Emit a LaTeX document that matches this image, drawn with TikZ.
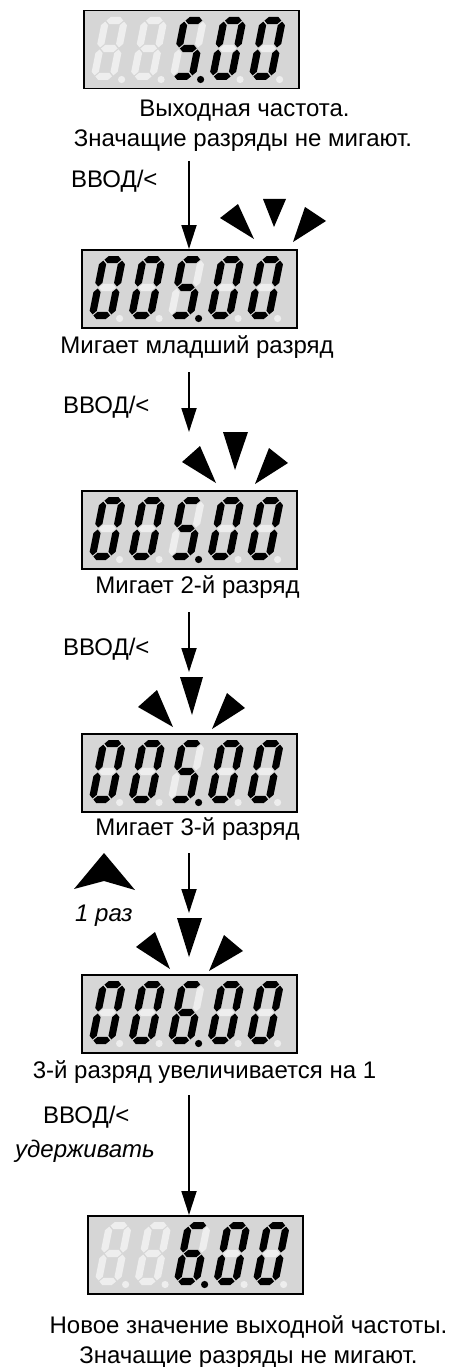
\documentclass[tikz,border=0pt]{standalone}
\usepackage{fontspec}
\setmainfont{Liberation Sans}
\usetikzlibrary{arrows.meta}
\definecolor{boxgray}{HTML}{D6D6D6}
\definecolor{segoff}{HTML}{EEEEEE}
\colorlet{segon}{black}
% horizontal segment: colour, yc, x0, x1
\newcommand{\sgH}[4]{\fill[#1] (#3,#2) -- ({#3+3.6},{#2+3.6}) -- ({#4-3.6},{#2+3.6}) -- (#4,#2) -- ({#4-3.6},{#2-3.6}) -- ({#3+3.6},{#2-3.6}) -- cycle;}
% vertical segment: colour, xc, y0, y1
\newcommand{\sgV}[4]{\fill[#1] (#2,#3) -- ({#2+3.6},{#3+3.6}) -- ({#2+3.6},{#4-3.6}) -- (#2,#4) -- ({#2-3.6},{#4-3.6}) -- ({#2-3.6},{#3+3.6}) -- cycle;}
% digit: x, y (bottom-left), colours a b c d e f g
\newcommand{\sevdig}[9]{%
\begin{scope}[shift={(#1,#2)},yscale=-1,xslant=-0.2]
\sgH{#3}{59.4}{4.6}{21.4}
\sgV{#4}{22.4}{32.5}{58.4}
\sgV{#5}{22.4}{4.6}{30.5}
\sgH{#6}{3.6}{4.6}{21.4}
\sgV{#7}{3.6}{4.6}{30.5}
\sgV{#8}{3.6}{32.5}{58.4}
\sgH{#9}{31.5}{4.6}{21.4}
\end{scope}}
\newcommand{\dzero}[2]{\sevdig{#1}{#2}{segon}{segon}{segon}{segon}{segon}{segon}{segoff}}
\newcommand{\dfive}[2]{\sevdig{#1}{#2}{segon}{segoff}{segon}{segon}{segoff}{segon}{segon}}
\newcommand{\dsix}[2]{\sevdig{#1}{#2}{segon}{segoff}{segon}{segon}{segon}{segon}{segon}}
\newcommand{\doff}[2]{\sevdig{#1}{#2}{segoff}{segoff}{segoff}{segoff}{segoff}{segoff}{segoff}}
% digits of a display: box top-left x, y, five digit macros
\newcommand{\showdigits}[7]{%
\pgfmathsetmacro\DGy{#2+70}%
\pgfmathsetmacro\DGxa{#1+7}%
\pgfmathsetmacro\DGxb{#1+46.5}%
\pgfmathsetmacro\DGxc{#1+86}%
\pgfmathsetmacro\DGxd{#1+125.5}%
\pgfmathsetmacro\DGxe{#1+165}%
#3{\DGxa}{\DGy}#4{\DGxb}{\DGy}#5{\DGxc}{\DGy}#6{\DGxd}{\DGy}#7{\DGxe}{\DGy}%
\fill[segoff] ({\DGxa+31.6},{\DGy-0.5}) circle (3.6);
\fill[segoff] ({\DGxb+31.6},{\DGy-0.5}) circle (3.6);
\fill[segon] ({\DGxc+31.6},{\DGy-0.5}) circle (3.6);
\fill[segoff] ({\DGxd+31.6},{\DGy-0.5}) circle (3.6);
\fill[segoff] ({\DGxe+31.6},{\DGy-0.5}) circle (3.6);}
\tikzset{
  dbox/.style={draw=black, line width=1.5pt, fill=boxgray, minimum width=215pt, minimum height=78pt, inner sep=0pt, anchor=north west},
  lbl/.style={font=\fontsize{24}{29}\selectfont, inner sep=0pt, anchor=base},
  lblw/.style={lbl, anchor=base west},
  itl/.style={font=\fontsize{24}{29}\selectfont\itshape},
  arr/.style={line width=1.8pt, -{Triangle[length=24pt,width=15pt]}},
  blink/.style={fill=black}
}
\begin{document}
\begin{tikzpicture}[x=1pt,y=-1pt]
\useasboundingbox (0,0) rectangle (456,1367);
% displays
\node[dbox] (b1) at (83,10) {};
\showdigits{83}{10}{\doff}{\doff}{\dfive}{\dzero}{\dzero}
\node[dbox] (b2) at (81,249) {};
\showdigits{81}{249}{\dzero}{\dzero}{\dfive}{\dzero}{\dzero}
\node[dbox] (b3) at (81,490) {};
\showdigits{81}{490}{\dzero}{\dzero}{\dfive}{\dzero}{\dzero}
\node[dbox] (b4) at (81,733) {};
\showdigits{81}{733}{\dzero}{\dzero}{\dfive}{\dzero}{\dzero}
\node[dbox] (b5) at (81,974) {};
\showdigits{81}{974}{\dzero}{\dzero}{\dsix}{\dzero}{\dzero}
\node[dbox] (b6) at (87,1215) {};
\showdigits{87}{1215}{\doff}{\doff}{\dsix}{\dzero}{\dzero}
% texts
\node[lbl] (c1a) at (244.5,116.5) {Выходная частота.};
\node[lbl] (c1b) at (243,146.5) {Значащие разряды не мигают.};
\node[lblw] (k1) at (71,188) {ВВОД/<};
\node[lbl] (c2) at (197,353) {Мигает младший разряд};
\node[lblw] (k2) at (63,413) {ВВОД/<};
\node[lbl] (c3) at (197.5,593) {Мигает 2-й разряд};
\node[lblw] (k3) at (63,655) {ВВОД/<};
\node[lbl] (c4) at (197.5,835) {Мигает 3-й разряд};
\node[lblw,itl] (t1) at (75,921) {1 раз};
\node[lbl] (c5) at (204.5,1078) {3-й разряд увеличивается на 1};
\node[lblw] (k5) at (43,1123) {ВВОД/<};
\node[lblw,itl] (h5) at (15,1157) {удерживать};
\node[lbl] (c6a) at (248.5,1333) {Новое значение выходной частоты.};
\node[lbl] (c6b) at (248.5,1363) {Значащие разряды не мигают.};
% arrows
\coordinate (a1s) at (189,161);
\coordinate (a2s) at (189,372);
\coordinate (a2e) at (189,432);
\coordinate (a3s) at (189,612);
\coordinate (a3e) at (189,672);
\coordinate (a4s) at (189,853);
\coordinate (a4e) at (189,913);
\coordinate (a5s) at (189,1095);
\draw[arr] (a1s) -- (a1s |- b2.north);
\draw[arr] (a2s) -- (a2e);
\draw[arr] (a3s) -- (a3e);
\draw[arr] (a4s) -- (a4e);
\draw[arr] (a5s) -- (a5s |- b6.north);
% blink markers
\fill[blink] (220,218) -- (238,204) -- (254,239) -- cycle;
\fill[blink] (263,199) -- (286,199) -- (274,227) -- cycle;
\fill[blink] (293,242) -- (326,221) -- (305,207) -- cycle;
\fill[blink] (182,462) -- (200,446) -- (216,483) -- cycle;
\fill[blink] (223,432) -- (248,432) -- (235,470) -- cycle;
\fill[blink] (255,484) -- (288,463) -- (269,448) -- cycle;
\fill[blink] (138,707) -- (157,690) -- (173,727) -- cycle;
\fill[blink] (180,677) -- (203,677) -- (192,715) -- cycle;
\fill[blink] (212,729) -- (245,708) -- (227,693) -- cycle;
\fill[blink] (136,947) -- (155,932) -- (170,969) -- cycle;
\fill[blink] (177,918) -- (202,918) -- (189,957) -- cycle;
\fill[blink] (209,971) -- (243,951) -- (224,935) -- cycle;
% up key
\fill[blink] (104,853) -- (135,890) -- (104,881) -- (74,889) -- cycle;
\end{tikzpicture}
\end{document}
